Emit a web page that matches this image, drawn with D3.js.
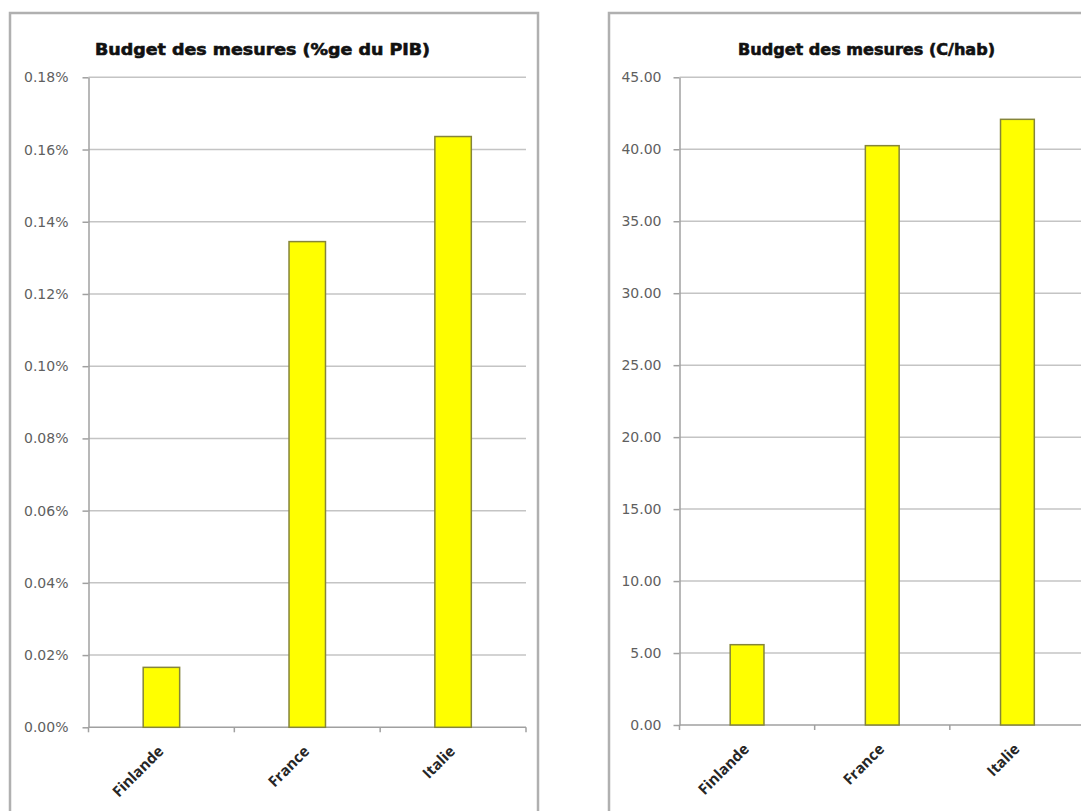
<!DOCTYPE html>
<html>
<head>
<meta charset="utf-8">
<script src="https://cdn.jsdelivr.net/npm/d3@7"></script>
<style>
  html, body { margin: 0; padding: 0; background: #ffffff; }
  svg { display: block; }
</style>
</head>
<body>
<svg id="chart" width="1081" height="811"></svg>
<script>
// Countries compared in both panels
const countries = ["Finlande", "France", "Italie"];

// Budget of the measures as a share of GDP (in %)
const budgetPctPib = [0.0166, 0.1345, 0.1636];
const pctTicks = [0, 0.02, 0.04, 0.06, 0.08, 0.10, 0.12, 0.14, 0.16, 0.18];

// Budget of the measures per inhabitant
const budgetParHab = [5.58, 40.25, 42.08];
const habTicks = [0, 5, 10, 15, 20, 25, 30, 35, 40, 45];

const titles = ["Budget des mesures (%ge du PIB)", "Budget des mesures (C/hab)"];

const svg = d3.select("#chart");

function drawPanel(opt) {
  const g = svg.append("g");

  // panel frame
  g.append("rect")
    .attr("x", opt.box[0]).attr("y", opt.box[1])
    .attr("width", opt.box[2]).attr("height", opt.box[3])
    .attr("fill", "#ffffff")
    .attr("stroke", "#b0b0b0")
    .attr("stroke-width", 2.5);

  const x = d3.scaleBand()
    .domain(countries)
    .range([opt.left, opt.right])
    .paddingInner(0.75)
    .paddingOuter(0.375);

  const y = d3.scaleLinear()
    .domain([0, opt.max])
    .range([opt.bottom, opt.top]);

  // horizontal gridlines
  g.append("g")
    .selectAll("line")
    .data(opt.ticks.filter(t => t > 0))
    .join("line")
    .attr("x1", opt.left).attr("x2", opt.right)
    .attr("y1", d => y(d)).attr("y2", d => y(d))
    .attr("stroke", "#c4c4c4")
    .attr("stroke-width", 1.5);

  // value axis
  const yAxis = d3.axisLeft(y)
    .tickValues(opt.ticks)
    .tickFormat(opt.format)
    .tickSizeInner(6)
    .tickSizeOuter(0)
    .tickPadding(opt.pad);
  const ya = g.append("g")
    .attr("transform", `translate(${opt.left},0)`)
    .call(yAxis);
  ya.select(".domain").attr("stroke", "#a0a0a0").attr("stroke-width", 1.5);
  ya.selectAll(".tick line").attr("stroke", "#a0a0a0").attr("stroke-width", 1.5);
  ya.selectAll(".tick text")
    .attr("fill", "#5f5f5f")
    .style("font-family", "'DejaVu Sans', Verdana, sans-serif")
    .style("font-size", "14px");

  // category axis: boundaries between bands
  const step = x.step();
  const bounds = d3.range(countries.length + 1).map(i => opt.left + i * step);
  g.append("line")
    .attr("x1", opt.left).attr("x2", opt.right)
    .attr("y1", opt.bottom).attr("y2", opt.bottom)
    .attr("stroke", "#a0a0a0").attr("stroke-width", 1.5);
  g.append("g")
    .selectAll("line")
    .data(bounds)
    .join("line")
    .attr("x1", d => d).attr("x2", d => d)
    .attr("y1", opt.bottom).attr("y2", opt.bottom + 5)
    .attr("stroke", "#a0a0a0").attr("stroke-width", 1.5);

  // bars
  g.append("g")
    .selectAll("rect")
    .data(opt.values)
    .join("rect")
    .attr("x", (d, i) => x(countries[i]))
    .attr("y", d => y(d))
    .attr("width", x.bandwidth())
    .attr("height", d => opt.bottom - y(d))
    .attr("fill", "#ffff00")
    .attr("stroke", "#85853a")
    .attr("stroke-width", 1.5);

  // rotated category labels
  g.append("g")
    .selectAll("text")
    .data(countries)
    .join("text")
    .attr("transform", d => `translate(${x(d) + x.bandwidth() / 2 + 3},${opt.bottom + 25}) rotate(-45)`)
    .attr("text-anchor", "end")
    .attr("fill", "#262626")
    .style("font-family", "'Open Sans', sans-serif")
    .style("font-weight", "700")
    .style("font-size", "15px")
    .text(d => d);

  // title
  g.append("text")
    .attr("x", opt.titleX)
    .attr("y", 55)
    .attr("textLength", opt.titleW)
    .attr("lengthAdjust", "spacingAndGlyphs")
    .attr("fill", "#111111")
    .attr("stroke", "#111111")
    .attr("stroke-width", 0.6)
    .style("font-family", "'DejaVu Sans', Verdana, sans-serif")
    .style("font-weight", "700")
    .style("font-size", "15.5px")
    .text(opt.title);
}

drawPanel({
  box: [10, 13, 528, 830],
  left: 88.5, right: 526, top: 77.3, bottom: 727.3,
  max: 0.18, ticks: pctTicks, pad: 14,
  format: d => d.toFixed(2) + "%",
  values: budgetPctPib,
  title: titles[0], titleX: 95, titleW: 335
});

drawPanel({
  box: [609, 13, 528, 830],
  left: 679.5, right: 1085, top: 77.3, bottom: 725,
  max: 45, ticks: habTicks, pad: 12,
  format: d => d.toFixed(2),
  values: budgetParHab,
  title: titles[1], titleX: 738, titleW: 257
});
</script>
</body>
</html>
